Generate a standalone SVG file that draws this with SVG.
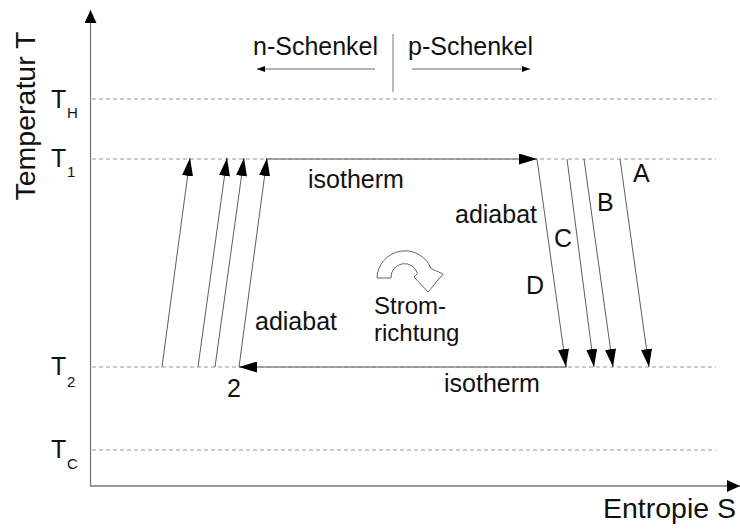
<svg xmlns="http://www.w3.org/2000/svg" width="740" height="529" viewBox="0 0 740 529">
<defs>
<marker id="big" markerUnits="userSpaceOnUse" markerWidth="18" markerHeight="11" refX="18" refY="5.5" orient="auto">
<path d="M0,0 L18,5.5 L0,11 z" fill="#000"/>
</marker>
<marker id="axis" markerUnits="userSpaceOnUse" markerWidth="13" markerHeight="12" refX="13" refY="6" orient="auto">
<path d="M0,0 L13,6 L0,12 z" fill="#000"/>
</marker>
<marker id="small" markerUnits="userSpaceOnUse" markerWidth="8" markerHeight="6" refX="8" refY="3" orient="auto">
<path d="M0,0 L8,3 L0,6 z" fill="#000"/>
</marker>
</defs>
<style>
text{font-family:"Liberation Sans",Arial,sans-serif;fill:#111;}
.lbl{font-size:25px;}
.sr{font-size:24px;}
.big{font-size:28.5px;}
.tl{font-size:25px;}
.sub{font-size:15px;}
.dash{stroke:#999;stroke-width:1;stroke-dasharray:4 3;fill:none;}
.ax{stroke:#777;stroke-width:1.3;fill:none;}
.iso{stroke:#888;stroke-width:1.5;fill:none;}
.ad{stroke:#333;stroke-width:0.8;fill:none;}
.thin{stroke:#444;stroke-width:0.8;fill:none;}
</style>
<rect width="740" height="529" fill="#fff"/>
<g id="grid">
<line class="dash" x1="92" y1="99" x2="716" y2="99"/>
<line class="dash" x1="92" y1="159" x2="716" y2="159"/>
<line class="dash" x1="92" y1="367" x2="716" y2="367"/>
<line class="dash" x1="92" y1="450" x2="716" y2="450"/>
</g>
<g id="axes">
<line class="ax" x1="90.5" y1="486" x2="90.5" y2="10" marker-end="url(#axis)"/>
<line class="ax" x1="90" y1="486" x2="740" y2="486" marker-end="url(#axis)"/>
<text class="big" transform="translate(35,116) rotate(-90)" text-anchor="middle">Temperatur T</text>
<text class="big" x="736" y="518" text-anchor="end">Entropie S</text>
</g>
<g id="tlabels">
<text class="tl" x="51" y="108">T</text><text class="sub" x="67" y="118">H</text>
<text class="tl" x="51" y="167">T</text><text class="sub" x="67" y="177">1</text>
<text class="tl" x="51" y="375">T</text><text class="sub" x="67" y="387">2</text>
<text class="tl" x="51" y="458">T</text><text class="sub" x="67" y="469">C</text>
</g>
<g id="legs">
<line x1="393" y1="34" x2="393" y2="92" stroke="#777" stroke-width="1"/>
<line class="thin" x1="375" y1="69" x2="257" y2="69" marker-end="url(#small)"/>
<line class="thin" x1="412" y1="69" x2="530" y2="69" marker-end="url(#small)"/>
<text class="lbl" x="253" y="55">n-Schenkel</text>
<text class="lbl" x="408" y="55">p-Schenkel</text>
</g>
<g id="connectors">
<line class="iso" x1="268" y1="159" x2="537" y2="159" marker-end="url(#big)"/>
<line class="iso" x1="567" y1="367" x2="239" y2="367" marker-end="url(#big)"/>
<line class="ad" x1="162" y1="367" x2="190" y2="158" marker-end="url(#big)"/>
<line class="ad" x1="198" y1="367" x2="227" y2="158" marker-end="url(#big)"/>
<line class="ad" x1="215" y1="367" x2="244" y2="158" marker-end="url(#big)"/>
<line class="ad" x1="239" y1="367" x2="267" y2="158" marker-end="url(#big)"/>
<line class="ad" x1="537" y1="159" x2="566" y2="367" marker-end="url(#big)"/>
<line class="ad" x1="567" y1="159" x2="594" y2="367" marker-end="url(#big)"/>
<line class="ad" x1="584" y1="159" x2="613" y2="367" marker-end="url(#big)"/>
<line class="ad" x1="620" y1="159" x2="649" y2="367" marker-end="url(#big)"/>
</g>
<g id="labels">
<text class="lbl" x="308" y="188">isotherm</text>
<text class="lbl" x="444" y="392">isotherm</text>
<text class="lbl" x="455" y="223">adiabat</text>
<text class="lbl" x="255" y="330">adiabat</text>
<text class="lbl" x="633" y="182">A</text>
<text class="lbl" x="597" y="211">B</text>
<text class="lbl" x="554" y="247">C</text>
<text class="lbl" x="526" y="294">D</text>
<text class="lbl" x="227" y="397">2</text>
</g>
<g id="stromrichtung">
<path d="M377,278 A28,28 0 0 1 431,268.5 L443,274 L428,292 L414,277 L417.5,273.6 A13.5,13.5 0 0 0 391,278 Z" fill="#fff" stroke="#666" stroke-width="1"/>
<text class="sr" x="374" y="314">Strom-</text>
<text class="sr" x="374" y="341">richtung</text>
</g>
</svg>
